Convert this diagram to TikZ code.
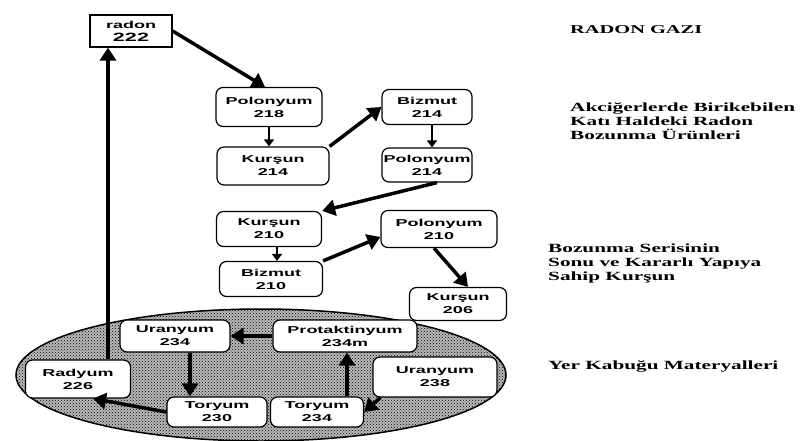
\documentclass[tikz,border=0pt]{standalone}
\usepackage{graphicx}
\usepackage{fontspec}
\newfontfamily\boxfont{Liberation Sans Bold}
\newfontfamily\notefont{Liberation Serif Bold}
\usetikzlibrary{arrows.meta,patterns}
\newcommand{\wbox}[1]{\scalebox{1.8}[1]{#1}}
\newcommand{\wnote}[1]{\scalebox{1.7}[1]{#1}}
\newcommand{\two}[2]{\wbox{#1}\\\wbox{#2}}
\tikzset{
  box/.style={draw, line width=1.2pt, rounded corners=7pt, fill=white, align=center, inner sep=0pt,
    font=\boxfont\fontsize{10}{13}\selectfont},
  bigarrow/.style={line width=3.5pt, -{Triangle[length=13pt,width=16pt]}},
  smallarrow/.style={line width=2.5pt, -{Triangle[length=7pt,width=10pt]}},
  note/.style={anchor=west, align=left, inner sep=0pt, font=\notefont\fontsize{12.5}{14}\selectfont}
}

\begin{document}
\begin{tikzpicture}[x=1pt,y=-1pt]
\useasboundingbox (0,0) rectangle (802,441);
% crust
\fill[gray!55] (261,375) ellipse [x radius=245, y radius=66];
\fill[pattern=crosshatch dots, pattern color=black] (261,375) ellipse [x radius=245, y radius=66];
\draw[line width=1.5pt] (261,375) ellipse [x radius=245, y radius=66];

\node[box, rounded corners=0pt, minimum width=82pt, minimum height=32pt] (radon) at (131,31) {\wbox{radon}\\\wbox{\fontsize{12}{13}\selectfont 222}};
\node[box, minimum width=106pt, minimum height=39pt] (po218) at (269,107) {\two{Polonyum}{218}};
\node[box, minimum width=112pt, minimum height=38pt] (ku214) at (273,166) {\two{Kurşun}{214}};
\node[box, minimum width=90pt, minimum height=35pt] (bi214) at (427,107) {\two{Bizmut}{214}};
\node[box, minimum width=90pt, minimum height=34pt] (po214) at (427,165) {\two{Polonyum}{214}};
\node[box, minimum width=105pt, minimum height=35pt] (ku210) at (269,229) {\two{Kurşun}{210}};
\node[box, minimum width=103pt, minimum height=35pt] (bi210) at (271,279) {\two{Bizmut}{210}};
\node[box, minimum width=116pt, minimum height=37pt] (po210) at (439,229) {\two{Polonyum}{210}};
\node[box, minimum width=97pt, minimum height=33pt] (ku206) at (458,304) {\two{Kurşun}{206}};
\node[box, minimum width=110pt, minimum height=32pt] (u234) at (175,336) {\two{Uranyum}{234}};
\node[box, minimum width=144pt, minimum height=32pt] (pa234m) at (345,336) {\two{Protaktinyum}{234m}};
\node[box, minimum width=105pt, minimum height=38pt] (ra226) at (78,379) {\two{Radyum}{226}};
\node[box, minimum width=124pt, minimum height=40pt] (u238) at (435,377) {\two{Uranyum}{238}};
\node[box, minimum width=100pt, minimum height=30pt] (th230) at (217,412) {\two{Toryum}{230}};
\node[box, minimum width=93pt, minimum height=30pt] (th234) at (317,412) {\two{Toryum}{234}};

\draw[bigarrow] (radon.east) -- ([xshift=-4pt]po218.north);
\draw[smallarrow] (po218.south) -- (po218.south |- ku214.north);
\draw[bigarrow] (ku214.north east) -- (bi214.west);
\draw[smallarrow] ([xshift=5pt]bi214.south) -- ([xshift=5pt]bi214.south |- po214.north);
\draw[bigarrow] ([xshift=10pt]po214.south) -- (ku210.north east);
\draw[smallarrow] ([xshift=8pt]ku210.south) -- ([xshift=8pt]ku210.south |- bi210.north);
\draw[bigarrow] (bi210.north east) -- ([yshift=-8pt]po210.west);
\draw[bigarrow] ([xshift=-5pt]po210.south) -- ([xshift=10pt]ku206.north);

\draw[bigarrow] (pa234m.west) -- (u234.east);
\draw[bigarrow] ([xshift=15pt]u234.south) -- ([xshift=15pt]u234.south |- th230.north);
\draw[bigarrow] ([xshift=30pt]th234.north) -- ([xshift=30pt]th234.north |- pa234m.south);
\draw[bigarrow] ([xshift=8pt]u238.south west) -- (th234.east);
\draw[bigarrow] (th230.west) -- ([xshift=15pt]ra226.south);
\draw[bigarrow] ([xshift=30pt]ra226.north) -- ([xshift=30pt]ra226.north |- radon.south);

\node[note] (gas) at (570,30) {\wnote{\fontsize{12}{14}\selectfont RADON GAZI}};
\node[note] (lung) at (570,121) {\wnote{Akciğerlerde Birikebilen}\\\wnote{Katı Haldeki Radon}\\\wnote{Bozunma Ürünleri}};
\node[note] (lead) at (548,263) {\wnote{Bozunma Serisinin}\\\wnote{Sonu ve Kararlı Yapıya}\\\wnote{Sahip Kurşun}};
\node[note] (crust) at (548,366) {\wnote{Yer Kabuğu Materyalleri}};
\end{tikzpicture}
\end{document}
